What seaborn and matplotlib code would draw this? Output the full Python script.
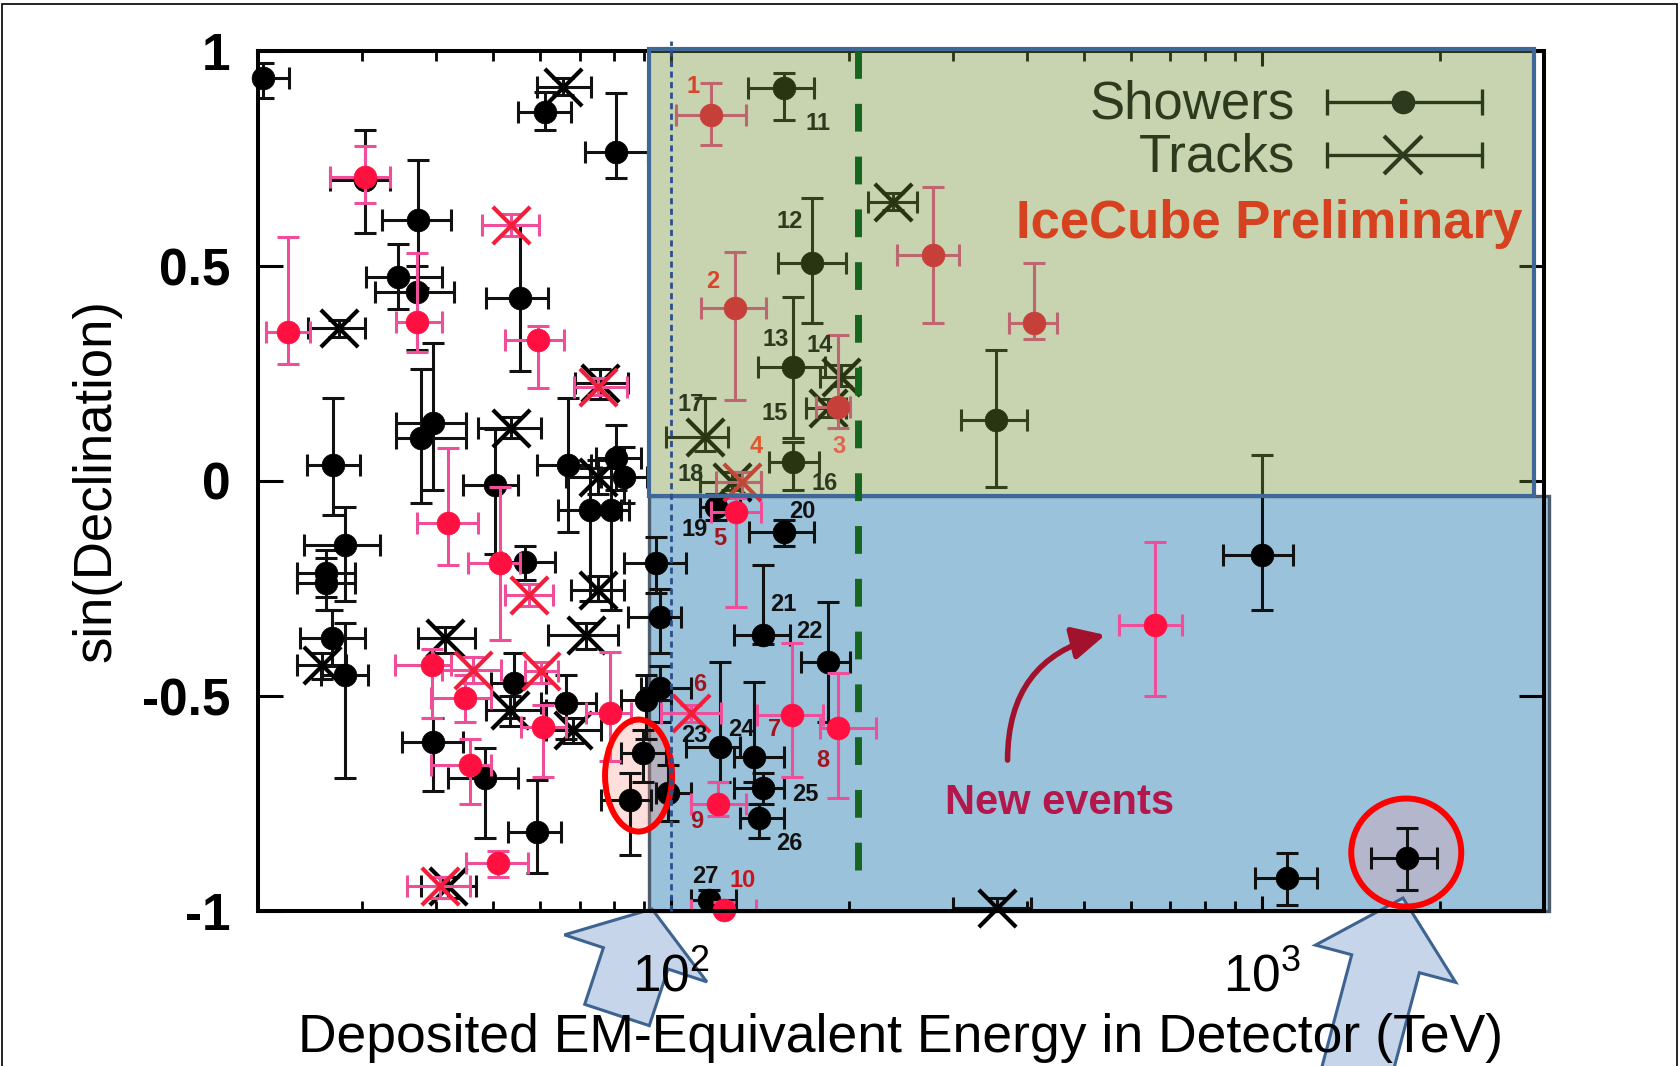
import numpy as np
import pandas as pd
import matplotlib
matplotlib.use("Agg")
import matplotlib.pyplot as plt
import matplotlib.transforms as mtransforms
from matplotlib.patches import Rectangle, Ellipse, Polygon
from matplotlib.ticker import FixedLocator, FixedFormatter, LogLocator, NullFormatter
import seaborn as sns

# ---------------- events: deposited energy (TeV) and sin(declination) ----------------
# cascade-like events (showers)
shower_E = [20.4, 61.1, 80.7, 30.3, 37.3, 34.5, 37.1, 55.5, 26.8, 28.1, 26.1, 26.1, 26.7,
            39.6, 37.8, 50.3, 56.5, 66.9, 80.7, 83.4, 72.8, 79.2, 94.3, 95.6, 95.6, 90.7,
            28.1, 54.3, 66.5, 39.6, 48.4, 59.2, 89.6, 85.1, 98.7, 155, 173, 161, 161, 354,
            119, 155, 143, 184, 121, 138, 143, 141, 116, 1000, 1102, 1760]
shower_sin = [0.937, 0.859, 0.766, 0.700, 0.607, 0.475, 0.440, 0.425, 0.037, -0.149, -0.215,
              -0.238, -0.366, 0.134, 0.099, -0.009, -0.188, 0.037, 0.053, 0.010, -0.067,
              -0.067, -0.191, -0.316, -0.482, -0.509, -0.451, -0.470, -0.517, -0.606, -0.691,
              -0.816, -0.633, -0.742, -0.726, 0.913, 0.506, 0.266, 0.045, 0.142, -0.060,
              -0.118, -0.358, -0.420, -0.618, -0.641, -0.715, -0.784, -0.974, -0.172, -0.924,
              -0.877]
shower_E_lo = [19.6, 55.1, 71.4, 26.5, 32.4, 30.5, 31.5, 48.7, 24.2, 23.9, 23.3, 23.3, 23.6,
               34.3, 34.3, 44.5, 51.6, 59.2, 74.7, 76.0, 64.3, 73.2, 83.4, 84.5, 89.0, 82.3,
               25.6, 49.6, 60.3, 35.0, 42.0, 53.0, 82.3, 76.2, 94.3, 134.8, 151.4, 140.1,
               146.4, 309, 112, 135.6, 127.8, 165.8, 106, 127.9, 128, 131, 108, 860, 972, 1528]
shower_E_hi = [22.6, 67.8, 91.3, 33.4, 42.5, 40.9, 43.0, 61.9, 29.8, 32.2, 29.2, 29.2, 30.4,
               45.0, 45.0, 55.1, 63.5, 73.2, 89.0, 91.0, 82.3, 85.0, 106.0, 104.0, 108.0,
               100.0, 30.7, 61.5, 74.7, 44.5, 55.1, 65.2, 98.0, 92.5, 108.0, 174.7, 197.6,
               182, 177.8, 400, 131, 174.7, 159, 201, 131, 155, 155, 155, 129, 1129, 1239, 1980]
shower_sin_lo = [0.890, 0.816, 0.704, 0.576, 0.450, 0.400, 0.305, 0.255, -0.080, -0.280,
                 -0.270, -0.300, -0.430, -0.020, -0.050, -0.170, -0.230, -0.118, -0.020,
                 -0.050, -0.280, -0.300, -0.260, -0.400, -0.560, -0.600, -0.691, -0.550,
                 -0.600, -0.720, -0.831, -0.912, -0.700, -0.870, -0.790, 0.840, 0.367, 0.099,
                 -0.020, -0.013, -0.090, -0.150, -0.380, -0.560, -0.700, -0.700, -0.750,
                 -0.830, -1.000, -0.300, -0.986, -0.951]
shower_sin_hi = [0.971, 0.905, 0.902, 0.816, 0.747, 0.550, 0.500, 0.595, 0.192, -0.060,
                 -0.160, -0.180, -0.300, 0.320, 0.260, 0.120, -0.150, 0.192, 0.130, 0.080,
                 0.030, 0.030, -0.130, -0.250, -0.430, -0.450, -0.330, -0.400, -0.450,
                 -0.550, -0.620, -0.695, -0.580, -0.680, -0.660, 0.948, 0.657, 0.429, 0.090,
                 0.305, -0.030, -0.090, -0.195, -0.281, -0.420, -0.467, -0.680, -0.750,
                 -0.950, 0.060, -0.866, -0.808]

# track-like events
track_E = [65.6, 27.4, 53.7, 75.7, 75.2, 75.2, 71.8, 41.4, 25.7, 53.3, 68.2, 42.0, 237, 194,
           184, 114, 127, 356]
track_sin = [0.917, 0.355, 0.123, 0.227, 0.010, -0.253, -0.358, -0.366, -0.428, -0.533,
             -0.579, -0.943, 0.650, 0.243, 0.169, 0.103, -0.002, -0.994]
track_E_lo = [59.2, 24.3, 47.2, 68.7, 66.5, 67.8, 61.9, 37.3, 23.3, 48.7, 61.5, 37.8, 215,
              179, 169, 98.1, 112, 300]
track_E_hi = [73.2, 30.3, 60.3, 84.5, 84.0, 83.4, 81.3, 46.5, 28.2, 61.5, 76.2, 46.8, 261,
              209, 198, 124.7, 142, 406]
track_sin_lo = [0.897, 0.335, 0.100, 0.190, -0.030, -0.280, -0.390, -0.400, -0.460, -0.570,
                -0.610, -0.970, 0.630, 0.220, 0.150, 0.070, -0.020, -1.000]
track_sin_hi = [0.937, 0.375, 0.150, 0.260, 0.050, -0.220, -0.330, -0.340, -0.400, -0.500,
                -0.550, -0.920, 0.670, 0.270, 0.190, 0.192, 0.020, -0.970]

# newly added showers (drawn in red)
new_shower_E = [30.3, 37.1, 59.6, 22.5, 42.0, 51.3, 39.4, 44.8, 60.6, 78.7, 45.7, 50.9, 117,
                128.5, 192, 277, 411, 129, 160, 192, 120, 123, 658]
new_shower_sin = [0.708, 0.370, 0.328, 0.347, -0.098, -0.191, -0.428, -0.505, -0.571, -0.540,
                  -0.660, -0.889, 0.851, 0.402, 0.173, 0.526, 0.367, -0.071, -0.544, -0.575,
                  -0.750, -0.998, -0.335]
new_shower_E_lo = [26.5, 34.3, 52.3, 20.6, 37.1, 45.3, 34.1, 39.3, 55.8, 71.9, 39.3, 45.0,
                   102, 112.4, 175.7, 241.5, 372.7, 116.8, 140, 179, 108, 108, 572]
new_shower_E_hi = [33.4, 40.9, 66.0, 24.5, 47.2, 55.5, 42.5, 49.6, 66.5, 85.6, 49.6, 57.3,
                   133.9, 144.7, 201, 306.9, 450, 142, 180.6, 222, 134, 139, 732]
new_shower_sin_lo = [0.646, 0.300, 0.216, 0.272, -0.195, -0.370, -0.550, -0.560, -0.688,
                     -0.650, -0.750, -0.920, 0.781, 0.188, 0.123, 0.367, 0.330, -0.292,
                     -0.688, -0.738, -0.780, -1.000, -0.500]
new_shower_sin_hi = [0.780, 0.530, 0.360, 0.568, 0.076, -0.013, -0.390, -0.450, -0.520,
                     -0.397, -0.600, -0.860, 0.925, 0.533, 0.340, 0.684, 0.506, -0.040,
                     -0.377, -0.447, -0.700, -0.980, -0.141]

# newly added tracks (drawn in red)
new_track_E = [53.7, 75.2, 57.6, 46.2, 60.3, 40.6, 132, 108]
new_track_sin = [0.595, 0.219, -0.265, -0.440, -0.443, -0.943, -0.002, -0.540]
new_track_E_lo = [47.8, 68.6, 52.3, 40.9, 56.5, 35.7, 119, 96.2]
new_track_E_hi = [59.8, 84.3, 63.2, 51.6, 64.4, 45.7, 142, 121.4]
new_track_sin_lo = [0.570, 0.200, -0.290, -0.470, -0.470, -0.970, -0.030, -0.560]
new_track_sin_hi = [0.620, 0.240, -0.240, -0.410, -0.420, -0.920, 0.020, -0.520]

# event numbers written next to the events above 100 TeV
event_ids = [str(i) for i in range(1, 28)]
event_id_E = [108.8, 117.6, 192.4, 139.2, 120.7, 112, 149.5, 180.4, 110.6, 132.2, 177, 159,
              150.4, 178.5, 149.8, 181.6, 108, 108, 109.8, 167, 154.8, 171.7, 109.5, 131.3,
              169, 158.4, 114.1]
event_id_sin = [0.917, 0.463, 0.080, 0.080, -0.133, -0.474, -0.579, -0.649, -0.792, -0.928,
                0.832, 0.603, 0.328, 0.316, 0.157, -0.005, 0.177, 0.014, -0.112, -0.071,
                -0.288, -0.350, -0.591, -0.579, -0.730, -0.843, -0.920]

# ---------------- style ----------------
sns.set_theme(style="white")
plt.rcParams["font.family"] = ["Liberation Sans", "DejaVu Sans"]
plt.rcParams["mathtext.fontset"] = "custom"
plt.rcParams["mathtext.rm"] = "Liberation Sans"
plt.rcParams["mathtext.it"] = "Liberation Sans:italic"
plt.rcParams["mathtext.bf"] = "Liberation Sans:bold"
plt.rcParams["axes.unicode_minus"] = False

W, H = 1680, 1066
fig = plt.figure(figsize=(W / 100, H / 100), dpi=100)
fig.patch.set_facecolor("white")
ax = fig.add_axes([258 / W, 155 / H, 1286 / W, 860 / H])
ax.set_facecolor("white")
ax.set_xscale("log")
ax.set_xlim(20, 3000)
ax.set_ylim(-1, 1)

OLIVE = "#2d3a1e"
SPLIT = -0.035      # boundary between northern and southern boxes
BOX_E0 = 91.8       # left edge of the highlighted energy range

# southern (blue) box, under the events
ax.add_patch(Rectangle((BOX_E0, -1), 3055 - BOX_E0, SPLIT + 1, facecolor="#9bc2db",
                       edgecolor="#4b5d6c", lw=2.4, zorder=0.5, clip_on=False))


def highlight(E, S, w_px, h_px, fill):
    """Red ring of fixed pixel size centred on a data point."""
    t = fig.dpi_scale_trans + mtransforms.ScaledTranslation(E, S, ax.transData)
    ax.add_patch(Ellipse((0, 0), w_px / 100, h_px / 100, transform=t, facecolor=fill,
                         edgecolor="none", zorder=1, clip_on=False))
    ax.add_patch(Ellipse((0, 0), w_px / 100, h_px / 100, transform=t, facecolor="none",
                         edgecolor="#ff0000", lw=4.3, zorder=3.5, clip_on=False))


highlight(88.1, -0.685, 67, 112, (1.0, 0.56, 0.50, 0.28))
highlight(1754, -0.864, 110, 108, (1.0, 0.60, 0.62, 0.25))


def draw_events(E, S, E_lo, E_hi, S_lo, S_hi, marker, face, bar, z):
    df = pd.DataFrame({"E": E, "S": S, "E_lo": E_lo, "E_hi": E_hi,
                       "S_lo": S_lo, "S_hi": S_hi})
    ax.errorbar(df["E"], df["S"],
                xerr=[df["E"] - df["E_lo"], df["E_hi"] - df["E"]],
                yerr=[df["S"] - df["S_lo"], df["S_hi"] - df["S"]],
                fmt="none", ecolor=bar, elinewidth=2.2, capsize=8, capthick=2.2, zorder=z)
    kw = dict(data=df, x="E", y="S", ax=ax, legend=False, zorder=z + 0.1, clip_on=False)
    if marker == "o":
        sns.scatterplot(marker="o", color=face, s=270, edgecolor=face, linewidth=0.5, **kw)
    else:
        sns.scatterplot(marker="x", color=face, s=720, linewidth=3.0, **kw)


draw_events(shower_E, shower_sin, shower_E_lo, shower_E_hi, shower_sin_lo, shower_sin_hi,
            "o", "#000000", "#111111", 2.0)
draw_events(track_E, track_sin, track_E_lo, track_E_hi, track_sin_lo, track_sin_hi,
            "x", "#000000", "#111111", 2.0)
draw_events(new_shower_E, new_shower_sin, new_shower_E_lo, new_shower_E_hi,
            new_shower_sin_lo, new_shower_sin_hi, "o", "#ff1040", "#ee4f98", 2.4)
draw_events(new_track_E, new_track_sin, new_track_E_lo, new_track_E_hi,
            new_track_sin_lo, new_track_sin_hi, "x", "#f0203c", "#ee4f98", 2.4)

# northern (green) box: translucent tint over the events
ax.add_patch(Rectangle((BOX_E0, SPLIT), 2890 - BOX_E0, 1.005 - SPLIT, facecolor="#6e8e2f",
                       alpha=0.38, edgecolor="none", zorder=4, clip_on=False))
ax.add_patch(Rectangle((BOX_E0, SPLIT), 2890 - BOX_E0, 1.005 - SPLIT, facecolor="none",
                       edgecolor="#3f6797", lw=3.0, zorder=4.1, clip_on=False))

# reference energies
ax.axvline(100, ymin=0, ymax=1.012, color="#2b4f8c", lw=2.0, dashes=(2.2, 1.6),
           zorder=4.5, clip_on=False)
ax.axvline(207, ymin=0.048, ymax=1.0, color="#17661f", lw=5, dashes=(4.0, 3.6), zorder=4.5)

# event numbers
id_colors = {"1": "#d8452a", "2": "#d8452a", "3": "#e2634f", "4": "#e0572f",
             "5": "#a3141f", "6": "#a3141f", "7": "#a3141f", "8": "#a3141f",
             "9": "#a3141f", "10": "#c8161e"}
for name, e, s in zip(event_ids, event_id_E, event_id_sin):
    n = int(name)
    if name in id_colors:
        c = id_colors[name]
    elif 11 <= n <= 18:
        c = OLIVE
    else:
        c = "#111111"
    ax.text(e, s, name, color=c, fontsize=17, fontweight="bold", ha="center",
            va="center", zorder=6)

# "New events" note with curved arrow
ax.annotate("", xy=(543, -0.358), xytext=(371, -0.649),
            arrowprops=dict(arrowstyle="-|>,head_length=0.9,head_width=0.45",
                            color="#a3122c", lw=4, mutation_scale=22,
                            connectionstyle="arc3,rad=-0.39", shrinkA=0, shrinkB=0),
            zorder=6)
ax.text(455, -0.750, "New events", color="#b3174c", fontsize=30, fontweight="bold",
        ha="center", va="center", zorder=6)

# legend
for y_line, y_txt, label, mk in [(0.9410, 0.9217, "Showers", "o"),
                                 (0.8791, 0.8597, "Tracks", "x")]:
    ax.text(0.8064, y_txt, label, transform=ax.transAxes, ha="right", va="baseline",
            fontsize=38, color=OLIVE, zorder=7)
    ax.plot([0.8310, 0.9516], [y_line, y_line], transform=ax.transAxes, color=OLIVE,
            lw=2.4, marker="|", markersize=19, mew=2.4, zorder=7, clip_on=False)
    if mk == "o":
        ax.plot([0.8906], [y_line], transform=ax.transAxes, marker="o", markersize=16,
                color=OLIVE, zorder=7.1, clip_on=False)
    else:
        ax.plot([0.8906], [y_line], transform=ax.transAxes, marker="x", markersize=27,
                mew=3.0, color=OLIVE, zorder=7.1, clip_on=False)

ax.text(0.983, 0.7826, "IceCube Preliminary", transform=ax.transAxes, ha="right",
        va="baseline", fontsize=38, fontweight="bold", color="#d6421f", zorder=7)


# block arrows pointing at the two bright events
def block_arrow(tip, tail, head_len, head_w, shaft_w):
    tip = np.array(tip, float)
    tail = np.array(tail, float)
    d = (tail - tip) / np.linalg.norm(tail - tip)
    n = np.array([-d[1], d[0]])
    base = tip + d * head_len
    pts = [tip, base + n * head_w / 2, base + n * shaft_w / 2, tail + n * shaft_w / 2,
           tail - n * shaft_w / 2, base - n * shaft_w / 2, base - n * head_w / 2]
    pts = [(p[0] / W, 1 - p[1] / H) for p in pts]
    ax.add_patch(Polygon(pts, closed=True, transform=fig.transFigure, facecolor="#c6d5e9",
                         edgecolor="#3d6390", lw=2.2, zorder=1.5, clip_on=False))


block_arrow((652, 909), (617, 1015), 52, 150, 68)
block_arrow((1403, 898), (1352, 1090), 68, 145, 70)

# axes, ticks and labels
ax.xaxis.set_major_locator(FixedLocator([100, 1000]))
ax.xaxis.set_major_formatter(FixedFormatter([r"$\mathregular{10^{2}}$",
                                             r"$\mathregular{10^{3}}$"]))
ax.xaxis.set_minor_locator(LogLocator(base=10, subs=np.arange(2, 10), numticks=20))
ax.xaxis.set_minor_formatter(NullFormatter())
ax.set_yticks([-1, -0.5, 0, 0.5, 1], labels=["-1", "-0.5", "0", "0.5", "1"],
              fontweight="bold")
ax.tick_params(axis="x", which="major", direction="in", length=11, width=2.2, top=True,
               bottom=True, labelsize=37, pad=30, colors="black")
ax.tick_params(axis="x", which="minor", direction="in", length=7, width=2.0, top=True,
               bottom=True, colors="black")
ax.tick_params(axis="y", which="major", direction="in", length=18, width=2.2, left=True,
               right=True, labelsize=37, pad=20, colors="black")
ax.xaxis.set_zorder(1.6)
ax.yaxis.set_zorder(1.6)
for sp in ax.spines.values():
    sp.set_visible(True)
    sp.set_color("black")
    sp.set_linewidth(2.9)

ax.set_xlabel("Deposited EM-Equivalent Energy in Detector (TeV)", fontsize=38.5,
              color="black", labelpad=8)
ax.set_ylabel("sin(Declination)", fontsize=38, color="black", labelpad=15)
ax.set_xlim(20, 3000)
ax.set_ylim(-1, 1)

# thin frame around the whole picture
fig.add_artist(Rectangle((2 / W, -0.02), (W - 5) / W, 1 - 4 / H + 0.02,
                         transform=fig.transFigure, fill=False, edgecolor="black", lw=1.2))

fig.savefig("out.png", dpi=100)
